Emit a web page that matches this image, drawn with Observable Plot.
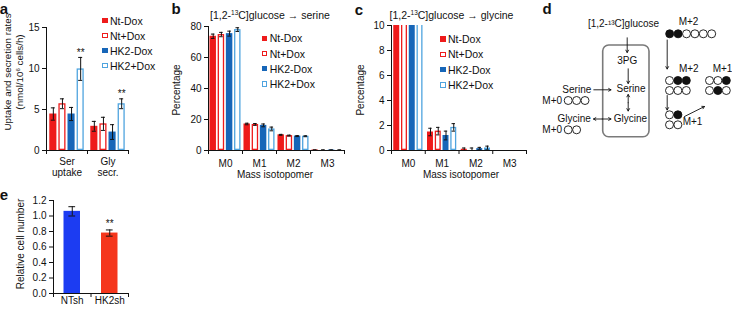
<!DOCTYPE html>
<html><head><meta charset="utf-8">
<script src="https://cdn.jsdelivr.net/npm/d3@7"></script>
<script src="https://cdn.jsdelivr.net/npm/@observablehq/plot@0.6"></script>
<style>
body{margin:0;background:#fff;font-family:"Liberation Sans",Arial,sans-serif;}
#root{position:relative;width:732px;height:309px;overflow:hidden;background:#fff;color:#111;}
sup{font-size:0.62em;line-height:0;vertical-align:0.55em;}
</style></head><body><div id="root"></div>
<script>
// ---------- data ----------
const series = ["Nt-Dox", "Nt+Dox", "HK2-Dox", "HK2+Dox"];

const rateGroups = ["Ser\nuptake", "Gly\nsecr."];
const rateValues = [[4.45, 5.7, 4.45, 9.95], [2.95, 3.25, 2.25, 5.7]];
const rateErrors = [[0.75, 0.6, 0.8, 1.4], [0.6, 0.8, 0.9, 0.6]];
const rateStars  = [[false, false, false, true], [false, false, false, true]];
const rateTicks  = [0, 5, 10, 15];

const isotopomers = ["M0", "M1", "M2", "M3"];
const serineValues = [[73.7, 74.8, 75.4, 78.0], [17.1, 16.8, 16.2, 13.9], [10.1, 9.6, 9.3, 9.2], [0.3, 0.3, 0.3, 0.3]];
const serineErrors = [[1.4, 1.4, 1.6, 1.2], [0.5, 0.6, 0.9, 1.2], [0.3, 0.3, 0.3, 0.3], [0.1, 0.1, 0.1, 0.1]];
const serineTicks  = [0, 20, 40, 60, 80];

const glycineValues = [[98.3, 98.3, 98.6, 98.0], [1.48, 1.55, 1.2, 1.85], [0.1, 0.1, 0.15, 0.2], [0, 0, 0, 0]];
const glycineErrors = [[0.4, 0.4, 0.4, 0.4], [0.3, 0.3, 0.35, 0.3], [0.1, 0.1, 0.1, 0.15], [0, 0, 0, 0]];
const glycineTicks  = [0, 2, 4, 6, 8, 10];

const cellGroups = ["NTsh", "HK2sh"];
const cellValues = [1.06, 0.78];
const cellErrors = [0.06, 0.04];
const cellStars  = [false, true];
const cellTicks  = [0, 0.2, 0.4, 0.6, 0.8, 1.0, 1.2];

// diagram (panel d) content
const diagramLabels = ["[1,2-\u00B9\u00B3C]glucose", "M+2", "3PG", "Serine", "Glycine", "Serine", "M+0", "Glycine", "M+0", "M+2", "M+1", "M+1"];
const diagramLabelXY = [[93, 23.5], [158, 21], [96.7, 60], [100.5, 88.5], [100, 118.5], [46.3, 89.3], [21.7, 100], [43.7, 118.5], [21.7, 129.3], [158.3, 68.3], [162, 121], [192, 68.3]];
const carbonPatterns = [["\u25CF\u25CF\u25CB\u25CB\u25CB\u25CB"], ["\u25CB\u25CB\u25CB"], ["\u25CB\u25CB"], ["\u25CB\u25CF\u25CF", "\u25CB\u25CB\u25CB"], ["\u25CB\u25CF", "\u25CB\u25CB"], ["\u25CB\u25CB\u25CF", "\u25CB\u25CF\u25CB"]];
const carbonOrigins = [[139.2, 33.3], [37.7, 100], [37.7, 129.3], [139, 80], [139, 114.3], [179, 80]];
const diagramArrows = [[96.7, 37.3, 96.7, 52], [97.7, 68.3, 97.7, 83], [63.3, 89.3, 80.5, 89.3], [136.7, 39.5, 136.7, 68.5], [136.7, 95, 136.7, 109.5], [154, 116, 174, 106]];
const diagramDoubleArrows = [[97.7, 94, 97.7, 110.5], [63, 118.5, 80.5, 118.5]];
const cellBox = [[72.7, 45, 119, 136.7]];

// ---------- styles ----------
const FONT = '"Liberation Sans", Arial, Helvetica, sans-serif';
const seriesColors = ["#EE1B1B", "#EE1B1B", "#1766B8", "#4FA4DF"];
const seriesFilled = [true, false, true, false];
const cellColors = ["#1C3CF2", "#F5361C"];
const INK = "#111";

const root = document.getElementById("root");

function label(html, x, y, {size = 10, anchor = "middle", rotate = 0, bold = false} = {}) {
  const d = document.createElement("div");
  d.innerHTML = html;
  const tx = anchor === "middle" ? "-50%" : anchor === "end" ? "-100%" : "0";
  d.style.cssText = `position:absolute;left:${x}px;top:${y}px;font-size:${size}px;white-space:nowrap;line-height:1;color:${INK};font-weight:${bold ? "bold" : "normal"};transform:translate(${tx},-50%)${rotate ? ` rotate(${rotate}deg)` : ""};`;
  root.appendChild(d);
}

function legend(x, y0, spacing, size) {
  series.forEach((s, i) => {
    const yc = y0 + i * spacing;
    const sq = document.createElement("div");
    sq.style.cssText = `position:absolute;left:${x}px;top:${yc - size / 2}px;width:${size}px;height:${size}px;box-sizing:border-box;` +
      (seriesFilled[i] ? `background:${seriesColors[i]};` : `background:#fff;border:1.2px solid ${seriesColors[i]};`);
    root.appendChild(sq);
    label(s, x + size + 2.5, yc, {anchor: "start", size: 10.5});
  });
}

function put(svg, left, top) {
  svg.style.position = "absolute";
  svg.style.left = left + "px";
  svg.style.top = top + "px";
  root.appendChild(svg);
}

function groupedBars(cfg) {
  const {groups, values, errors, stars, ticks, yMax, stride, barW, cap, width, height, ml, mr, mt, mb, labelDy, clip} = cfg;
  const n = groups.length;
  const x0 = 1.5 - stride / 2;
  const rows = [];
  groups.forEach((g, gi) => series.forEach((s, si) => {
    rows.push({si, c: gi * stride + si, v: values[gi][si], e: errors[gi][si], star: stars ? stars[gi][si] : false});
  }));
  const boundaries = d3.range(n + 1).map(k => x0 + k * stride);
  const centers = groups.map((g, gi) => ({g, c: 1.5 + gi * stride}));
  const errs = rows.filter(r => r.e > 0);
  return Plot.plot({
    width, height, marginLeft: ml, marginRight: mr, marginTop: mt, marginBottom: mb,
    style: {fontFamily: FONT, fontSize: "10px", color: INK, background: "transparent", overflow: "visible"},
    color: {type: "identity"},
    x: {domain: [x0, x0 + n * stride], label: null},
    y: {domain: [0, yMax], label: null},
    marks: [
      Plot.rect(rows.filter(r => seriesFilled[r.si]), {x1: r => r.c - barW / 2, x2: r => r.c + barW / 2, y1: () => 0, y2: "v", fill: r => seriesColors[r.si], clip}),
      Plot.rect(rows.filter(r => !seriesFilled[r.si]), {x1: r => r.c - barW / 2, x2: r => r.c + barW / 2, y1: () => 0, y2: "v", fill: "white", stroke: r => seriesColors[r.si], strokeWidth: 1.3, inset: 0.65, clip}),
      Plot.ruleX(errs, {x: "c", y1: r => Math.max(0, r.v - r.e), y2: r => r.v + r.e, stroke: INK, strokeWidth: 1, clip}),
      Plot.ruleY(errs, {y: r => r.v + r.e, x1: r => r.c - cap, x2: r => r.c + cap, stroke: INK, strokeWidth: 1, clip}),
      Plot.ruleY(errs.filter(r => r.v - r.e > 0), {y: r => r.v - r.e, x1: r => r.c - cap, x2: r => r.c + cap, stroke: INK, strokeWidth: 1, clip}),
      Plot.text(rows.filter(r => r.star), {x: "c", y: r => r.v + r.e, text: () => "**", dy: -5, fontSize: 10, fill: INK}),
      Plot.ruleX([x0], {y1: () => 0, y2: () => yMax, stroke: INK}),
      Plot.ruleY([0], {stroke: INK}),
      Plot.axisY({ticks, tickSize: 4, tickPadding: 3, label: null, fontSize: 10}),
      Plot.axisX({ticks: boundaries, tickSize: 4, tickFormat: () => "", label: null}),
      Plot.text(centers, {x: "c", y: () => 0, text: "g", lineAnchor: "top", dy: labelDy, lineHeight: 1.15, fontSize: 10, fill: INK})
    ]
  });
}

// ---------- panel a ----------
put(groupedBars({groups: rateGroups, values: rateValues, errors: rateErrors, stars: rateStars, ticks: rateTicks, yMax: 15,
  stride: 4.5, barW: 0.78, cap: 0.22, width: 135, height: 185, ml: 46, mr: 7, mt: 27, mb: 35, labelDy: 6, clip: false}), 0, 0);
label("a", 4, 8, {size: 15, bold: true});
label("Uptake and secretion rates", 8, 72, {rotate: -90, size: 9.8});
label("(nmol/10<sup>6</sup> cells/h)", 20, 72, {rotate: -90, size: 9.8});
legend(102, 20.7, 15, 5.5);

// ---------- panel b ----------
put(groupedBars({groups: isotopomers, values: serineValues, errors: serineErrors, ticks: serineTicks, yMax: 80,
  stride: 4.15, barW: 0.79, cap: 0.22, width: 180, height: 185, ml: 38, mr: 6, mt: 26, mb: 35, labelDy: 8, clip: false}), 170, 0);
label("b", 176, 8, {size: 15, bold: true});
label("[1,2-<sup>13</sup>C]glucose \u2192 serine", 210, 15, {anchor: "start", size: 10.5});
label("Percentage", 177, 90, {rotate: -90});
label("Mass isotopomer", 275, 175, {size: 10});
legend(261.7, 38.3, 15.2, 5.5);

// ---------- panel c ----------
put(groupedBars({groups: isotopomers, values: glycineValues, errors: glycineErrors, ticks: glycineTicks, yMax: 10,
  stride: 4.35, barW: 0.77, cap: 0.22, width: 180, height: 185, ml: 36, mr: 9, mt: 25, mb: 35, labelDy: 8, clip: true}), 355, 0);
label("c", 359, 8.5, {size: 15, bold: true});
label("[1,2-<sup>13</sup>C]glucose \u2192 glycine", 389.5, 15, {anchor: "start", size: 10.5});
label("Percentage", 361, 90, {rotate: -90});
label("Mass isotopomer", 461, 175, {size: 10});
legend(440, 39, 15.3, 5.5);

// ---------- panel d ----------
{
  const texts = diagramLabels.map((t, i) => ({t, x: diagramLabelXY[i][0], y: diagramLabelXY[i][1]}));
  const carbons = [];
  carbonPatterns.forEach((rowsP, gi) => rowsP.forEach((row, ri) => Array.from(row).forEach((ch, ci) => {
    carbons.push({x: carbonOrigins[gi][0] + ci * 8.4, y: carbonOrigins[gi][1] + ri * 10, filled: ch === "\u25CF"});
  })));
  const arrows = diagramArrows.map(([x1, y1, x2, y2]) => ({x1, y1, x2, y2}));
  diagramDoubleArrows.forEach(([x1, y1, x2, y2]) => {
    const mx = (x1 + x2) / 2, my = (y1 + y2) / 2;
    arrows.push({x1: mx, y1: my, x2: x1, y2: y1}, {x1: mx, y1: my, x2: x2, y2: y2});
  });
  const box = cellBox.map(([x1, y1, x2, y2]) => ({x1, y1, x2, y2}));
  put(Plot.plot({
    width: 202, height: 140, margin: 0,
    style: {fontFamily: FONT, fontSize: "10px", color: INK, background: "transparent", overflow: "visible"},
    x: {domain: [0, 202], range: [0, 202], axis: null},
    y: {domain: [0, 140], range: [0, 140], axis: null},
    marks: [
      Plot.rect(box, {x1: "x1", x2: "x2", y1: "y1", y2: "y2", rx: 6, fill: "none", stroke: "#7a7a7a", strokeWidth: 1.6}),
      Plot.arrow(arrows, {x1: "x1", y1: "y1", x2: "x2", y2: "y2", stroke: INK, strokeWidth: 0.9, headLength: 4.5}),
      Plot.dot(carbons, {x: "x", y: "y", r: 4, fill: d => d.filled ? INK : "white", stroke: INK, strokeWidth: 0.9}),
      Plot.text(texts, {x: "x", y: "y", text: "t", fontSize: 10, fill: INK})
    ]
  }), 530, 0);
  label("d", 547, 8, {size: 15, bold: true});
}

// ---------- panel e ----------
{
  const rows = cellGroups.map((g, i) => ({g, i, v: cellValues[i], e: cellErrors[i], star: cellStars[i]}));
  const bw = 0.44, cap = 0.09;
  put(Plot.plot({
    width: 135, height: 124, marginLeft: 53, marginRight: 7, marginTop: 15, marginBottom: 16,
    style: {fontFamily: FONT, fontSize: "10px", color: INK, background: "transparent", overflow: "visible"},
    color: {type: "identity"},
    x: {domain: [-0.5, 1.5], label: null},
    y: {domain: [0, 1.2], label: null},
    marks: [
      Plot.rect(rows, {x1: d => d.i - bw / 2, x2: d => d.i + bw / 2, y1: () => 0, y2: "v", fill: d => cellColors[d.i]}),
      Plot.ruleX(rows, {x: "i", y1: d => d.v - d.e, y2: d => d.v + d.e, stroke: INK}),
      Plot.ruleY(rows, {y: d => d.v + d.e, x1: d => d.i - cap, x2: d => d.i + cap, stroke: INK}),
      Plot.ruleY(rows, {y: d => d.v - d.e, x1: d => d.i - cap, x2: d => d.i + cap, stroke: INK}),
      Plot.text(rows.filter(d => d.star), {x: "i", y: d => d.v + d.e, text: () => "**", dy: -6, fontSize: 10, fill: INK}),
      Plot.ruleX([-0.5], {y1: () => 0, y2: () => 1.2, stroke: INK}),
      Plot.ruleY([0], {stroke: INK}),
      Plot.axisY({ticks: cellTicks, tickSize: 4, tickPadding: 3, tickFormat: d3.format(".1f"), label: null, fontSize: 10}),
      Plot.axisX({ticks: [-0.5, 0.5, 1.5], tickSize: 4, tickFormat: () => "", label: null}),
      Plot.text(rows, {x: "i", y: () => 0, text: "g", lineAnchor: "top", dy: 3, fontSize: 10, fill: INK})
    ]
  }), 0, 185);
  label("e", 4, 194, {size: 15, bold: true});
  label("Relative cell number", 21, 244, {rotate: -90});
}
</script>
</body></html>
